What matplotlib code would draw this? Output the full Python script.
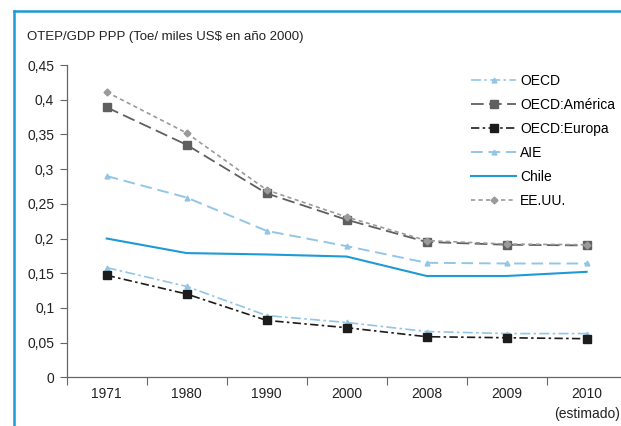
import matplotlib
matplotlib.use("Agg")
import matplotlib.pyplot as plt
from matplotlib.lines import Line2D
from matplotlib.ticker import FixedLocator, FuncFormatter

plt.rcParams["font.family"] = ["Liberation Sans Narrow", "Liberation Sans", "DejaVu Sans"]

years = ["1971", "1980", "1990", "2000", "2008", "2009", "2010\n(estimado)"]
oecd = [0.158, 0.131, 0.089, 0.079, 0.066, 0.063, 0.063]
oecd_america = [0.389, 0.335, 0.265, 0.227, 0.195, 0.191, 0.190]
oecd_europa = [0.147, 0.120, 0.082, 0.0715, 0.0585, 0.057, 0.0556]
aie = [0.290, 0.259, 0.211, 0.189, 0.165, 0.164, 0.164]
chile = [0.200, 0.179, 0.177, 0.174, 0.146, 0.146, 0.152]
eeuu = [0.411, 0.352, 0.270, 0.231, 0.197, 0.192, 0.191]

LBLUE = "#93c6e6"
BLUE = "#1f9ad6"

fig = plt.figure(figsize=(6.21, 4.26), dpi=100)
ax = fig.add_axes([0.1074, 0.1143, 0.8926, 0.7331])
x = list(range(len(years)))

ax.plot(x, oecd, color=LBLUE, lw=1.2, ls=(0, (6, 2, 1.5, 2)), marker="^", ms=3.5, label="OECD")
ax.plot(x, oecd_america, color="#5f5f5f", lw=1.3, ls=(0, (7, 3)), marker="s", ms=6, label="OECD:América")
ax.plot(x, oecd_europa, color="#1c1c1c", lw=1.2, ls=(0, (5, 2, 1.5, 2)), marker="s", ms=6, label="OECD:Europa")
ax.plot(x, aie, color=LBLUE, lw=1.4, ls=(0, (6, 3)), marker="^", ms=3.5, label="AIE")
ax.plot(x, chile, color=BLUE, lw=1.5, ls="-", label="Chile")
ax.plot(x, eeuu, color="#9a9a9a", lw=1.2, ls=(0, (2.5, 2)), marker="D", ms=3.5, label="EE.UU.")

ax.set_xlim(-0.5, 6.43)
ax.set_ylim(0, 0.45)

for s in ["top", "right"]:
    ax.spines[s].set_visible(False)
for s in ["left", "bottom"]:
    ax.spines[s].set_color("#666666")
    ax.spines[s].set_linewidth(0.9)

ax.set_yticks([i * 0.05 for i in range(10)])
ax.yaxis.set_major_formatter(FuncFormatter(lambda v, p: ("%g" % round(v, 2)).replace(".", ",")))
ax.tick_params(axis="y", direction="out", length=5, width=0.8, color="#666666",
               labelsize=10, labelcolor="#222222", pad=4)

ax.set_xticks(x)
ax.set_xticklabels(years)
ax.xaxis.set_minor_locator(FixedLocator([i - 0.5 for i in range(7)]))
ax.tick_params(axis="x", which="major", length=0, labelsize=10, labelcolor="#222222", pad=7)
ax.tick_params(axis="x", which="minor", direction="out", length=6, width=0.8, color="#666666")
for t in ax.get_xticklabels():
    t.set_linespacing(1.5)

leg = ax.legend(loc="upper left", bbox_to_anchor=(0.72, 0.99), frameon=False, fontsize=10,
                handlelength=3.2, handletextpad=0.3, labelspacing=0.72, borderaxespad=0)

fig.text(0.043, 0.905, "OTEP/GDP PPP (Toe/ miles US\\$ en año 2000)", fontsize=9.5, color="#222222")

# blue frame on top and left
fig.add_artist(Line2D([0.023, 1.0], [0.975, 0.975], color=BLUE, lw=1.8, transform=fig.transFigure))
fig.add_artist(Line2D([0.023, 0.023], [0.0, 0.975], color=BLUE, lw=1.8, transform=fig.transFigure))

fig.savefig("out.png", dpi=100)
